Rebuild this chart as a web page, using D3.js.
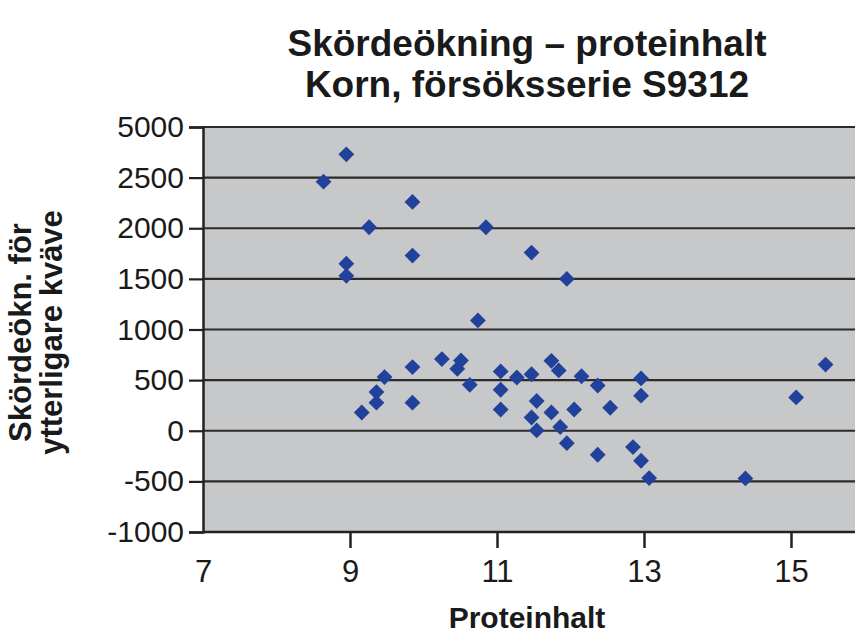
<!DOCTYPE html>
<html>
<head>
<meta charset="utf-8">
<script src="https://cdn.jsdelivr.net/npm/d3@7"></script>
<style>
  html, body { margin: 0; padding: 0; background: #fff; }
  svg { display: block; font-family: "Liberation Sans", Arial, Helvetica, sans-serif; }
</style>
</head>
<body>
<svg id="chart" width="855" height="640"></svg>
<script>
// Skördeökning (kg/ha) for extra nitrogen vs. protein content, barley trial series S9312
const protein = [
  8.95, 8.64, 9.85, 9.26, 9.85, 8.95, 8.95, 10.85, 11.47, 11.95,
  10.74, 9.16, 9.36, 9.36, 9.47, 9.85, 9.85, 10.25, 10.51, 10.46,
  10.63, 11.05, 11.05, 11.05, 11.27, 11.47, 11.74, 11.84, 12.15, 12.37,
  12.96, 12.96, 15.07, 15.47, 11.54, 11.74, 12.05, 12.54, 11.47, 11.54,
  11.86, 11.95, 12.37, 12.85, 12.96, 13.07, 14.38
];
const yieldIncrease = [
  2730, 2460, 2260, 2010, 1730, 1650, 1530, 2010, 1760, 1500,
  1090, 180, 277, 382, 530, 629, 277, 708, 694, 612,
  454, 586, 405, 210, 526, 558, 691, 596, 538, 447,
  517, 346, 329, 654, 294, 181, 210, 227, 131, 3,
  37, -123, -237, -161, -296, -467, -471
];

const xTicks = [7, 9, 11, 13, 15];
const yTicks = [-1000, -500, 0, 500, 1000, 1500, 2000, 2500, 3000];
const yTickLabels = ["-1000", "-500", "0", "500", "1000", "1500", "2000", "2500", "5000"];

const titleLines = ["Skördeökning – proteinhalt", "Korn, försöksserie S9312"];
const xTitle = "Proteinhalt";
const yTitleLines = ["Skördeökn. för", "ytterligare kväve"];

const W = 855, H = 640;
const plot = { left: 203, top: 127, right: 855, bottom: 532 };

const svg = d3.select("#chart");

const x = d3.scaleLinear().domain([7, 17]).range([plot.left, plot.left + 735]);
const y = d3.scaleLinear().domain([-1000, 3000]).range([plot.bottom, plot.top]);

// plot background
svg.append("rect")
  .attr("x", plot.left).attr("y", plot.top)
  .attr("width", plot.right - plot.left).attr("height", plot.bottom - plot.top)
  .attr("fill", "#c7c8ca");

// horizontal grid lines
svg.append("g")
  .selectAll("line")
  .data(yTicks.slice(1))
  .join("line")
  .attr("x1", plot.left).attr("x2", plot.right)
  .attr("y1", d => y(d)).attr("y2", d => y(d))
  .attr("stroke", "#2b2b2b")
  .attr("stroke-width", 2.2);

// y axis
const yAxis = svg.append("g")
  .attr("transform", `translate(${plot.left},0)`)
  .call(d3.axisLeft(y)
    .tickValues(yTicks)
    .tickSize(14)
    .tickPadding(5)
    .tickFormat((d, i) => yTickLabels[i]));
yAxis.select(".domain").attr("stroke", "#222").attr("stroke-width", 2.5);
yAxis.selectAll(".tick line").attr("stroke", "#222").attr("stroke-width", 2.2);
yAxis.selectAll(".tick text")
  .attr("fill", "#1a1a1a")
  .style("font-size", "30px");

// x axis
const xAxis = svg.append("g")
  .attr("transform", `translate(0,${plot.bottom})`)
  .call(d3.axisBottom(x)
    .tickValues(xTicks)
    .tickSize(16)
    .tickPadding(12)
    .tickSizeOuter(0));
xAxis.select(".domain")
  .attr("d", `M${plot.left},0H${plot.right}`)
  .attr("stroke", "#222").attr("stroke-width", 2.5);
xAxis.selectAll(".tick line")
  .attr("stroke", "#222").attr("stroke-width", 2.5)
  .attr("display", d => d === 7 ? "none" : null);
xAxis.selectAll(".tick text")
  .attr("fill", "#1a1a1a")
  .style("font-size", "31px");

// data markers (diamonds)
const diamond = d3.symbol().type(d3.symbolSquare).size(125);
svg.append("g")
  .selectAll("path")
  .data(protein.map((p, i) => [p, yieldIncrease[i]]))
  .join("path")
  .attr("d", diamond)
  .attr("transform", d => `translate(${x(d[0])},${y(d[1])}) rotate(45)`)
  .attr("fill", "#21419b");

// title
svg.append("text")
  .attr("x", 527).attr("y", 56)
  .attr("text-anchor", "middle")
  .attr("font-weight", "bold")
  .attr("fill", "#1a1a1a")
  .style("font-size", "37px")
  .selectAll("tspan")
  .data(titleLines)
  .join("tspan")
  .attr("x", 527)
  .attr("dy", (d, i) => i === 0 ? 0 : 41)
  .text(d => d);

// x axis title
svg.append("text")
  .attr("x", 527).attr("y", 628)
  .attr("text-anchor", "middle")
  .attr("font-weight", "bold")
  .attr("fill", "#1a1a1a")
  .style("font-size", "30px")
  .text(xTitle);

// y axis title
const yT = svg.append("text")
  .attr("transform", `translate(31,${(plot.top + plot.bottom) / 2 + 3}) rotate(-90)`)
  .attr("text-anchor", "middle")
  .attr("font-weight", "bold")
  .attr("fill", "#1a1a1a")
  .style("font-size", "31px");
yT.selectAll("tspan")
  .data(yTitleLines)
  .join("tspan")
  .attr("x", 0)
  .attr("dy", (d, i) => i === 0 ? 0 : 31)
  .text(d => d);
</script>
</body>
</html>
